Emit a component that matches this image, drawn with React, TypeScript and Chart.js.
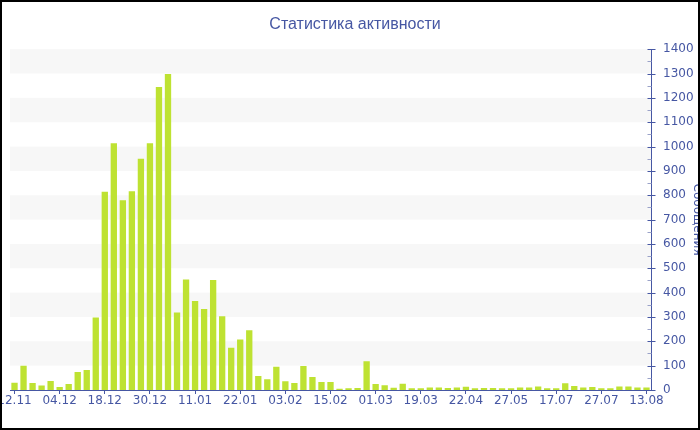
import React, { useEffect, useRef } from 'react';
import { Chart, registerables } from 'chart.js';

Chart.register(...registerables);

// Tick labels shown on the x axis (every 5th bar)
const dateLabels = [
  '12.11', '04.12', '18.12', '30.12', '11.01', '22.01', '03.02', '15.02',
  '01.03', '19.03', '22.04', '27.05', '17.07', '27.07', '13.08',
];

// Messages per period (71 bars)
const messages = [
  30, 100, 29, 18, 37, 12, 25, 74, 82, 298,
  814, 1014, 779, 816, 950, 1014, 1245, 1298, 318, 454,
  366, 333, 452, 303, 174, 207, 245, 58, 44, 95,
  36, 29, 99, 53, 33, 33, 5, 7, 8, 118,
  25, 20, 9, 26, 7, 7, 10, 10, 8, 10,
  13, 7, 8, 8, 7, 7, 10, 10, 14, 7,
  7, 28, 16, 10, 12, 7, 7, 14, 14, 10,
  10,
];

const TITLE = 'Статистика активности';
const Y_TITLE = 'Сообщения';
const Y_MAX = 1400;
const Y_STEP = 100;

const BLUE = '#4657a3';
const BAR = '#bee232';

export default function App() {
  const ref = useRef<HTMLCanvasElement>(null);

  useEffect(() => {
    if (!ref.current) return;
    const labels = messages.map((_, i) => (i % 5 === 0 ? dateLabels[i / 5] ?? '' : ''));

    const bands = {
      id: 'bands',
      beforeDraw(chart: any) {
        const { ctx, chartArea, scales } = chart;
        const y = scales.y;
        ctx.save();
        ctx.fillStyle = '#f7f7f7';
        for (let v = Y_STEP; v < Y_MAX; v += 2 * Y_STEP) {
          const top = y.getPixelForValue(v + Y_STEP);
          const bot = y.getPixelForValue(v);
          ctx.fillRect(chartArea.left, top, chartArea.right - chartArea.left, bot - top);
        }
        ctx.restore();
      },
    };

    const yTicks = {
      id: 'yTicks',
      afterDraw(chart: any) {
        const { ctx, chartArea, scales } = chart;
        const y = scales.y;
        const x = Math.round(chartArea.right) + 0.5;
        ctx.save();
        ctx.lineWidth = 1;
        for (let v = 0; v <= Y_MAX; v += Y_STEP / 2) {
          const yy = Math.round(y.getPixelForValue(v)) + 0.5;
          ctx.beginPath();
          if (v % Y_STEP === 0) {
            ctx.strokeStyle = BLUE;
            ctx.moveTo(x - 4, yy);
            ctx.lineTo(x + 4, yy);
          } else {
            ctx.strokeStyle = '#9aa2c8';
            ctx.moveTo(x - 4, yy);
            ctx.lineTo(x, yy);
          }
          ctx.stroke();
        }
        ctx.restore();
      },
    };

    const chart = new Chart(ref.current, {
      type: 'bar',
      data: {
        labels,
        datasets: [
          {
            data: messages,
            backgroundColor: BAR,
            borderWidth: 0,
            barPercentage: 0.7,
            categoryPercentage: 1,
          },
        ],
      },
      options: {
        animation: false,
        responsive: false,
        devicePixelRatio: 1,
        layout: { padding: { left: 10, right: 0, top: 0, bottom: 0 } },
        plugins: {
          legend: { display: false },
          tooltip: { enabled: false },
          title: {
            display: true,
            text: TITLE,
            color: BLUE,
            font: { family: 'Liberation Sans', size: 16, weight: 'normal' },
            padding: { top: 15, bottom: 15 },
          },
        },
        scales: {
          x: {
            offset: true,
            grid: {
              display: true,
              drawOnChartArea: false,
              drawTicks: true,
              tickLength: 4,
              offset: false,
              tickColor: (c: any) => (c.index % 5 === 0 ? BLUE : 'rgba(0,0,0,0)'),
            },
            border: { display: true, color: BLUE, width: 1 },
            ticks: {
              autoSkip: false,
              maxRotation: 0,
              minRotation: 0,
              padding: 0,
              color: BLUE,
              font: { family: 'DejaVu Sans', size: 12 },
            },
            afterFit(scale: any) {
              scale.height = 40;
              scale.paddingLeft = 0;
              scale.paddingRight = 0;
            },
          },
          y: {
            position: 'right',
            min: 0,
            max: Y_MAX,
            grid: { display: false },
            border: { display: true, color: BLUE, width: 1 },
            ticks: {
              stepSize: Y_STEP,
              padding: 4,
              color: BLUE,
              font: { family: 'DejaVu Sans', size: 12 },
              callback: (v: any) => String(v),
            },
            title: {
              display: true,
              text: Y_TITLE,
              color: BLUE,
              font: { family: 'DejaVu Sans', size: 12 },
              padding: { top: -4.5, bottom: 0 },
            },
            afterFit(scale: any) {
              scale.width = 49;
            },
          },
        },
      },
      plugins: [bands, yTicks],
    });

    return () => chart.destroy();
  }, []);

  return (
    <div style={{ position: 'absolute', left: 0, top: 0, width: 700, height: 430, background: '#fff' }}>
      <canvas ref={ref} width={700} height={430} style={{ display: 'block', width: 700, height: 430 }} />
      <div
        style={{
          position: 'absolute',
          left: 0,
          top: 0,
          width: 700,
          height: 430,
          border: '2px solid #000',
          boxSizing: 'border-box',
          pointerEvents: 'none',
        }}
      />
    </div>
  );
}
